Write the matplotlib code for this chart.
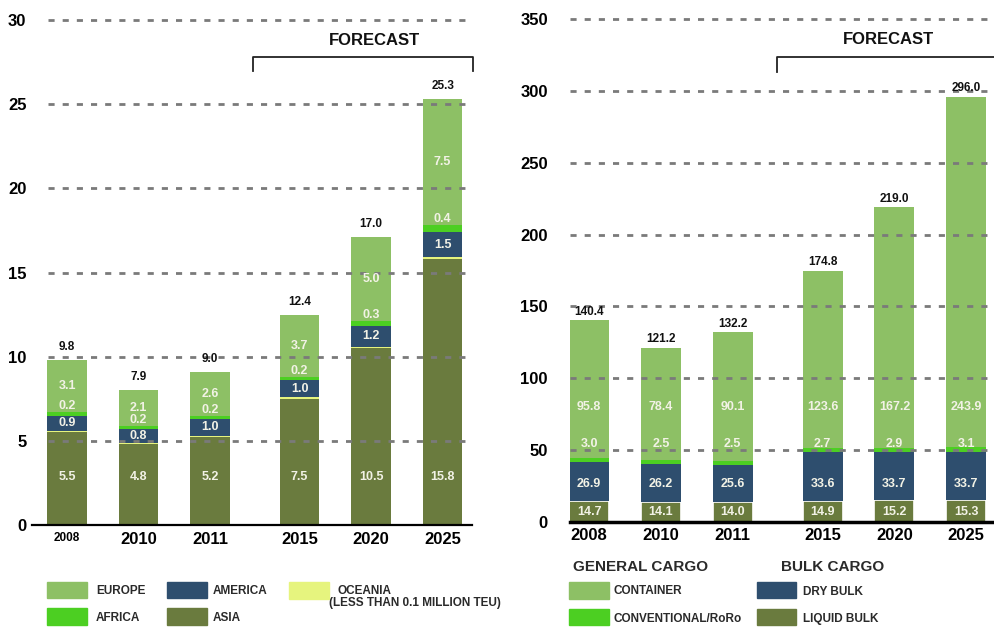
import matplotlib
matplotlib.use("Agg")
import matplotlib.pyplot as plt
from matplotlib.patches import Rectangle
from matplotlib.lines import Line2D
import numpy as np

plt.rcParams['font.family'] = ['Liberation Sans', 'DejaVu Sans']

# ---------------- data ----------------
years = ["2008", "2010", "2011", "2015", "2020", "2025"]
positions = [0, 1, 2, 3.25, 4.25, 5.25]

# Left chart: container throughput by region (million TEU)
asia = [5.5, 4.8, 5.2, 7.5, 10.5, 15.8]
oceania = [0.1, 0.1, 0.1, 0.1, 0.1, 0.1]
america = [0.9, 0.8, 1.0, 1.0, 1.2, 1.5]
africa = [0.2, 0.2, 0.2, 0.2, 0.3, 0.4]
europe = [3.1, 2.1, 2.6, 3.7, 5.0, 7.5]
teu_total = [9.8, 7.9, 9.0, 12.4, 17.0, 25.3]
left_yticks = [0, 5, 10, 15, 20, 25, 30]

# Right chart: cargo by type (million tonnes)
liquid_bulk = [14.7, 14.1, 14.0, 14.9, 15.2, 15.3]
dry_bulk = [26.9, 26.2, 25.6, 33.6, 33.7, 33.7]
conventional = [3.0, 2.5, 2.5, 2.7, 2.9, 3.1]
container = [95.8, 78.4, 90.1, 123.6, 167.2, 243.9]
cargo_total = [140.4, 121.2, 132.2, 174.8, 219.0, 296.0]
right_yticks = [0, 50, 100, 150, 200, 250, 300, 350]

# ---------------- style ----------------
C_LIGHT = "#8DC065"
C_BRIGHT = "#4CCF22"
C_BLUE = "#2E4E6E"
C_OLIVE = "#6A7B3E"
C_YELLOW = "#E6F47E"
LBL = "#F2F2E6"
GRID = "#7a7a7a"
DASH = (0, (2.2, 2.9))

W, H = 995, 627
fig = plt.figure(figsize=(W / 100, H / 100), dpi=100)


def rect(x0, y0, x1, y1):
    return [x0 / W, 1 - y1 / H, (x1 - x0) / W, (y1 - y0) / H]


def fx(x):
    return x / W


def fy(y):
    return 1 - y / H


def style_axes(ax, yticks, pad):
    for s in ["left", "right", "top"]:
        ax.spines[s].set_visible(False)
    ax.tick_params(length=0)
    ax.set_yticks(yticks)
    ax.set_yticklabels([str(t) for t in yticks], fontsize=12, fontweight="bold")
    ax.tick_params(axis="y", pad=pad)
    ax.set_xticks(positions)
    ax.set_xticklabels(years, fontsize=12, fontweight="bold")
    ax.tick_params(axis="x", pad=5)
    ax.patch.set_visible(False)


# ---------------- left chart ----------------
axL = fig.add_axes(rect(32, 20, 472, 525))
axL.set_xlim(-0.49, 5.66)
axL.set_ylim(0, 30)
style_axes(axL, left_yticks, 4)
axL.spines["bottom"].set_linewidth(1.6)
axL.get_xticklabels()[0].set_fontsize(8.5)

bw = 0.55
x = np.array(positions)
b = np.zeros(6)
segsL = [(asia, C_OLIVE), (oceania, C_YELLOW), (america, C_BLUE),
         (africa, C_BRIGHT), (europe, C_LIGHT)]
bottoms = {}
for vals, col in segsL:
    bottoms[col] = b.copy()
    axL.bar(x, vals, bw, bottom=b, color=col, zorder=2)
    b = b + np.array(vals)

axL.hlines(left_yticks[1:], -0.27, 5.68, colors=GRID, linestyles=DASH,
           lw=2, zorder=3, clip_on=False)

for i in range(6):
    axL.text(x[i], 2.85, f"{asia[i]:.1f}", ha="center", va="center",
             color=LBL, fontsize=9, fontweight="bold", zorder=4)
    yb = bottoms[C_BLUE][i] + america[i] / 2
    axL.text(x[i], yb, f"{america[i]:.1f}", ha="center", va="center",
             color=LBL, fontsize=9, fontweight="bold", zorder=4)
    ya = bottoms[C_BRIGHT][i] + africa[i] + 0.35
    axL.text(x[i], ya, f"{africa[i]:.1f}", ha="center", va="center",
             color=LBL, fontsize=9, fontweight="bold", zorder=4)
    ye = bottoms[C_LIGHT][i] + europe[i] / 2
    axL.text(x[i], ye, f"{europe[i]:.1f}", ha="center", va="center",
             color=LBL, fontsize=9, fontweight="bold", zorder=4)
    axL.text(x[i], b[i] + 0.77, f"{teu_total[i]:.1f}", ha="center",
             va="center", color="#111111", fontsize=8.5, fontweight="bold",
             zorder=4)

# forecast bracket left
axL.add_line(Line2D([2.60, 2.60, 5.68, 5.68], [27.0, 27.8, 27.8, 27.0],
                    color="#222222", lw=1.3, clip_on=False))
axL.text(4.29, 28.8, "FORECAST", ha="center", va="center", fontsize=12,
         fontweight="bold", color="#111111")

# ---------------- right chart ----------------
axR = fig.add_axes(rect(570, 19, 995, 522))
axR.set_xlim(-0.265, 5.65)
axR.set_ylim(0, 350)
style_axes(axR, right_yticks, 16)
axR.spines["bottom"].set_linewidth(2.5)
axR.tick_params(axis="x", pad=4)

b = np.zeros(6)
segsR = [(liquid_bulk, C_OLIVE), (dry_bulk, C_BLUE),
         (conventional, C_BRIGHT), (container, C_LIGHT)]
for j, (vals, col) in enumerate(segsR):
    axR.bar(x, vals, 0.557, bottom=b, color=col, zorder=2,
            edgecolor="white" if j == 0 else col, linewidth=1.2 if j == 0 else 0)
    b = b + np.array(vals)

axR.hlines(right_yticks[1:], -0.265, 5.7, colors=GRID, linestyles=DASH,
           lw=2, zorder=3, clip_on=False)

label_rows = [(liquid_bulk, 6.7), (dry_bulk, 26.5), (conventional, 54),
              (container, 80)]
for i in range(6):
    for vals, yy in label_rows:
        axR.text(x[i], yy, f"{vals[i]:.1f}", ha="center", va="center",
                 color=LBL, fontsize=9, fontweight="bold", zorder=4)
    axR.text(x[i], b[i] + 5.8, f"{cargo_total[i]:.1f}", ha="center",
             va="center", color="#111111", fontsize=8.5, fontweight="bold",
             zorder=4)

axR.add_line(Line2D([2.62, 2.62, 5.75], [313, 323.6, 323.6],
                    color="#222222", lw=1.3, clip_on=False))
axR.text(4.16, 335.4, "FORECAST", ha="center", va="center", fontsize=12,
         fontweight="bold", color="#111111")

# ---------------- legends ----------------
def patch(x0, y0, x1, y1, col):
    fig.patches.append(Rectangle((fx(x0), fy(y1)), fx(x1) - fx(x0),
                                 fy(y0) - fy(y1), transform=fig.transFigure,
                                 color=col))


def label(xp, yp, s, size=8.5):
    fig.text(fx(xp), fy(yp), s, ha="left", va="center", fontsize=size,
             fontweight="bold", color="#2a2a2a")


patch(47, 582, 87, 598, C_LIGHT); label(96, 591, "EUROPE")
patch(167, 582, 207, 598, C_BLUE); label(213, 591, "AMERICA")
patch(289, 582, 329, 599, C_YELLOW); label(337, 591, "OCEANIA")
label(329, 603, "(LESS THAN 0.1 MILLION TEU)")
patch(47, 608, 87, 625, C_BRIGHT); label(96, 618, "AFRICA")
patch(167, 608, 207, 625, C_OLIVE); label(213, 618, "ASIA")

label(573, 567, "GENERAL CARGO", size=11)
label(781, 567, "BULK CARGO", size=11)
patch(569, 582, 609, 599, C_LIGHT); label(614, 591, "CONTAINER")
patch(569, 609, 609, 625, C_BRIGHT); label(614, 619, "CONVENTIONAL/RoRo")
patch(757, 582, 796, 598, C_BLUE); label(803, 592, "DRY BULK")
patch(757, 609, 796, 625, C_OLIVE); label(803, 619, "LIQUID BULK")

fig.savefig("out.png", dpi=100)
